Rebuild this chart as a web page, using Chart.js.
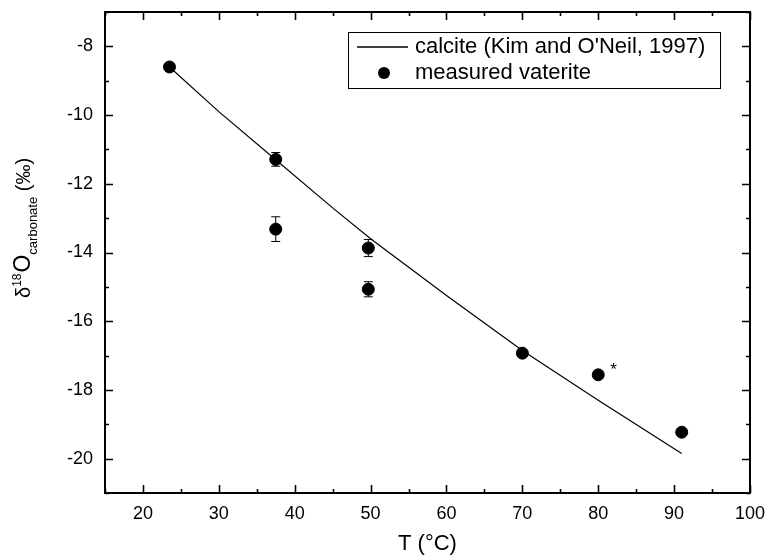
<!DOCTYPE html>
<html>
<head>
<meta charset="utf-8">
<script src="https://cdn.jsdelivr.net/npm/chart.js@4/dist/chart.umd.min.js"></script>
<style>
  html, body { margin: 0; padding: 0; background: #fff; }
  #wrap { width: 769px; height: 557px; }
</style>
</head>
<body>
<div id="wrap"><canvas id="myChart" width="769" height="557"></canvas></div>
<script>
// calcite equilibrium curve (Kim and O'Neil, 1997)
var calciteT = [23.5, 30, 37.5, 45, 50, 60, 70, 80, 91];
var calciteD18O = [-8.6, -9.9, -11.3, -12.7, -13.6, -15.25, -16.85, -18.3, -19.85];

// measured vaterite, with 1 sigma error
var vateriteT = [23.5, 37.5, 37.5, 49.7, 49.7, 70, 80, 91];
var vateriteD18O = [-8.6, -11.29, -13.32, -13.87, -15.07, -16.93, -17.56, -19.23];
var vateriteErr = [0.1, 0.2, 0.36, 0.25, 0.22, 0.1, 0.05, 0.1];
var flagged = [6];

var xTicks = [20, 30, 40, 50, 60, 70, 80, 90, 100];
var yTicks = [-20, -18, -16, -14, -12, -10, -8];

var FONT = "'Liberation Sans', Arial, sans-serif";

var calcitePts = calciteT.map(function (t, i) { return {x: t, y: calciteD18O[i]}; });
var vateritePts = vateriteT.map(function (t, i) { return {x: t, y: vateriteD18O[i]}; });

// error bars + the asterisk on the odd point
var errorBars = {
  id: 'errorBars',
  afterDatasetsDraw: function (chart) {
    var ctx = chart.ctx, xs = chart.scales.x, ys = chart.scales.y;
    ctx.save();
    ctx.strokeStyle = '#000';
    ctx.lineWidth = 1;
    for (var i = 0; i < vateriteT.length; i++) {
      var px = xs.getPixelForValue(vateriteT[i]);
      var top = ys.getPixelForValue(vateriteD18O[i] + vateriteErr[i]);
      var bot = ys.getPixelForValue(vateriteD18O[i] - vateriteErr[i]);
      ctx.beginPath();
      ctx.moveTo(px, top); ctx.lineTo(px, bot);
      ctx.moveTo(px - 4.5, top); ctx.lineTo(px + 4.5, top);
      ctx.moveTo(px - 4.5, bot); ctx.lineTo(px + 4.5, bot);
      ctx.stroke();
    }
    ctx.fillStyle = '#000';
    ctx.font = '17px ' + FONT;
    ctx.textBaseline = 'middle';
    flagged.forEach(function (i) {
      ctx.fillText('*', xs.getPixelForValue(vateriteT[i]) + 12, ys.getPixelForValue(vateriteD18O[i]) - 4);
    });
    ctx.restore();
  }
};

// box frame with inward ticks on all four sides, legend and y title
var frame = {
  id: 'frame',
  afterDraw: function (chart) {
    var ctx = chart.ctx, a = chart.chartArea, xs = chart.scales.x, ys = chart.scales.y;
    ctx.save();
    ctx.strokeStyle = '#000';
    ctx.lineWidth = 1.6;
    var v, p, len;
    ctx.beginPath();
    for (v = 15; v <= 100; v += 5) {
      p = Math.round(xs.getPixelForValue(v)) + 0.5;
      len = v % 10 === 0 ? 8 : 4;
      ctx.moveTo(p, a.bottom); ctx.lineTo(p, a.bottom - len);
      ctx.moveTo(p, a.top); ctx.lineTo(p, a.top + len);
    }
    for (v = -21; v <= -7; v += 1) {
      p = Math.round(ys.getPixelForValue(v)) + 0.5;
      len = v % 2 === 0 ? 8 : 4;
      ctx.moveTo(a.left, p); ctx.lineTo(a.left + len, p);
      ctx.moveTo(a.right, p); ctx.lineTo(a.right - len, p);
    }
    ctx.stroke();
    ctx.lineWidth = 2;
    ctx.strokeRect(a.left, a.top, a.right - a.left, a.bottom - a.top);

    // legend
    var lx = a.right - 402, ly = a.top + 20;
    ctx.lineWidth = 1;
    ctx.strokeRect(lx + 0.5, ly + 0.5, 372, 56);
    ctx.beginPath();
    ctx.lineWidth = 1.3;
    ctx.moveTo(lx + 9, ly + 15); ctx.lineTo(lx + 60, ly + 15);
    ctx.stroke();
    ctx.fillStyle = '#000';
    ctx.beginPath();
    ctx.arc(lx + 36, ly + 41, 6, 0, Math.PI * 2);
    ctx.fill();
    ctx.font = '22px ' + FONT;
    ctx.textBaseline = 'middle';
    ctx.fillText("calcite (Kim and O'Neil, 1997)", lx + 67, ly + 15);
    ctx.fillText('measured vaterite', lx + 67, ly + 41);

    // rotated y title: δ18O carbonate (‰)
    ctx.translate(30, 298);
    ctx.rotate(-Math.PI / 2);
    ctx.textBaseline = 'alphabetic';
    var parts = [
      ['δ', 20, 0], ['18', 12, -9], ['O', 23, 0], ['carbonate', 13, 7], [' (‰)', 20, 0]
    ];
    var cx = 0;
    parts.forEach(function (pt) {
      ctx.font = pt[1] + 'px ' + FONT;
      ctx.fillText(pt[0], cx, pt[2]);
      cx += ctx.measureText(pt[0]).width + (pt[0] === '18' ? 1 : 0);
    });
    ctx.restore();
  }
};

new Chart('myChart', {
  type: 'scatter',
  data: {
    datasets: [{
      type: 'line',
      label: "calcite (Kim and O'Neil, 1997)",
      data: calcitePts,
      borderColor: '#000',
      borderWidth: 1.2,
      pointRadius: 0,
      tension: 0,
      fill: false
    }, {
      label: 'measured vaterite',
      data: vateritePts,
      backgroundColor: '#000',
      borderColor: '#000',
      pointRadius: 6,
      pointHoverRadius: 6
    }]
  },
  options: {
    responsive: false,
    animation: false,
    events: [],
    layout: {padding: {top: 12, right: 19, left: 0, bottom: 0}},
    plugins: {legend: {display: false}, tooltip: {enabled: false}},
    scales: {
      x: {
        type: 'linear',
        min: 15, max: 100,
        grid: {display: false, drawTicks: false},
        border: {display: false},
        afterBuildTicks: function (s) { s.ticks = xTicks.map(function (v) { return {value: v}; }); },
        afterFit: function (s) { s.height = 64; s.paddingLeft = 0; s.paddingRight = 0; },
        ticks: {color: '#000', font: {family: FONT, size: 18}, padding: 10, maxRotation: 0},
        title: {display: true, text: 'T (°C)', color: '#000', font: {family: FONT, size: 22}, padding: {top: 4, bottom: 0}}
      },
      y: {
        type: 'linear',
        min: -21, max: -7,
        grid: {display: false, drawTicks: false},
        border: {display: false},
        afterBuildTicks: function (s) { s.ticks = yTicks.map(function (v) { return {value: v}; }); },
        afterFit: function (s) { s.width = 105; s.paddingTop = 0; s.paddingBottom = 0; },
        ticks: {color: '#000', font: {family: FONT, size: 18}, padding: 12}
      }
    }
  },
  plugins: [errorBars, frame]
});
</script>
</body>
</html>
